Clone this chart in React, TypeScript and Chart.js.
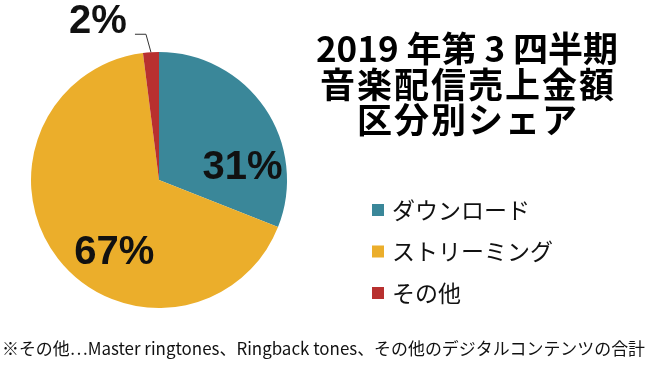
import React, { useEffect, useRef } from "react";
import { Chart, registerables } from "chart.js";

Chart.register(...registerables);

const categories = ["ダウンロード", "ストリーミング", "その他"];
const shares = [31, 67, 2];
const valueLabels = ["31%", "67%", "2%"];
const titleLines = ["2019 年第 3 四半期", "音楽配信売上金額", "区分別シェア"];
const footnote = "※その他…Master ringtones、Ringback tones、その他のデジタルコンテンツの合計";

const colors = ["#3A8799", "#EBAE2B", "#B8302F"];

// label placement: angle (deg clockwise from top) and radius fraction
const labelPlacement = [
  { angle: 81, r: 0.66 },
  { angle: 212, r: 0.66 },
  { angle: 339, r: 1.33 },
];
const titleSpacing = [0, 2, 2];

const decorPlugin = {
  id: "decor",
  afterDraw(chart: any) {
    const ctx = chart.ctx as CanvasRenderingContext2D;
    const meta = chart.getDatasetMeta(0);
    const arc0 = meta.data[0] as any;
    const cx = arc0.x;
    const cy = arc0.y;
    const R = arc0.outerRadius;
    ctx.save();
    // value labels
    ctx.fillStyle = "#111";
    ctx.font = "bold 40px 'Liberation Sans', Arial, sans-serif";
    ctx.textAlign = "center";
    ctx.textBaseline = "middle";
    valueLabels.forEach((t, i) => {
      const p = labelPlacement[i];
      const a = (p.angle * Math.PI) / 180;
      const x = cx + Math.sin(a) * R * p.r;
      const y = cy - Math.cos(a) * R * p.r;
      ctx.fillText(t, x, y + 1);
    });
    // leader line for small slice
    const small = meta.data[2] as any;
    const mid = (small.startAngle + small.endAngle) / 2;
    const ex = cx + Math.cos(mid) * R;
    const ey = cy + Math.sin(mid) * R;
    ctx.strokeStyle = "#333";
    ctx.lineWidth = 1;
    ctx.beginPath();
    ctx.moveTo(ex, ey);
    ctx.lineTo(ex - 5, ey - 18);
    ctx.lineTo(ex - 16, ey - 18);
    ctx.stroke();

    // title
    ctx.fillStyle = "#000";
    ctx.font = "bold 35px 'Noto Sans CJK JP', sans-serif";
    ctx.textAlign = "left";
    ctx.textBaseline = "middle";
    titleLines.forEach((t, i) => {
      (ctx as any).letterSpacing = titleSpacing[i] + "px";
      const w = ctx.measureText(t).width - titleSpacing[i];
      ctx.fillText(t, 467 - w / 2, 49 + i * 35.5);
    });
    (ctx as any).letterSpacing = "0px";

    // legend
    ctx.textAlign = "left";
    ctx.font = "23px 'Noto Sans CJK JP', sans-serif";
    categories.forEach((c, i) => {
      const y = 210 + i * 41.5;
      ctx.fillStyle = colors[i];
      ctx.fillRect(372, y - 6, 12, 12);
      ctx.fillStyle = "#111";
      ctx.fillText(c, 392, y);
    });

    // footnote
    ctx.font = "17px 'Noto Sans CJK JP', sans-serif";
    ctx.fillStyle = "#111";
    ctx.textAlign = "left";
    ctx.fillText(footnote, 2, 349, 643);
    ctx.restore();
  },
};

export default function App() {
  const ref = useRef<HTMLCanvasElement | null>(null);
  useEffect(() => {
    document.body.style.margin = "0";
    document.body.style.background = "#fff";
    const chart = new Chart(ref.current!, {
      type: "pie",
      data: {
        labels: categories,
        datasets: [
          {
            data: shares,
            backgroundColor: colors,
            borderWidth: 0,
          },
        ],
      },
      options: {
        animation: false,
        responsive: false,
        layout: { padding: { left: 31, top: 52, right: 363, bottom: 61 } },
        plugins: {
          legend: { display: false },
          title: { display: false },
          tooltip: { enabled: false },
        },
      },
      plugins: [decorPlugin],
    });
    return () => chart.destroy();
  }, []);
  return (
    <div style={{ width: 650, height: 369, background: "#fff" }}>
      <canvas ref={ref} width={650} height={369} />
    </div>
  );
}
